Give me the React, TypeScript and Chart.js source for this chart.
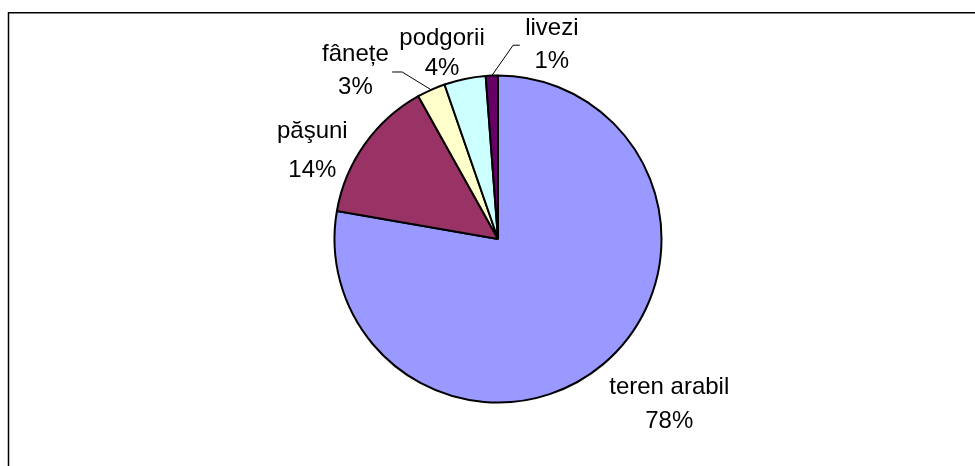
import React, { useEffect, useRef } from "react";
import { Chart, registerables } from "chart.js";

Chart.register(...registerables);

const categories = ["teren arabil", "păşuni", "fânețe", "podgorii", "livezi"];
const values = [77.7, 14.15, 2.8, 4.1, 1.2];
const colors = ["#9999FF", "#993366", "#FFFFCC", "#CCFFFF", "#660066"];

// label layout: offsets from each slice's outer mid-point (dx = text centre, dy1/dy2 = baselines)
const labelOffsets = [
  { dx: 66, dy1: 30.3, dy2: 64.3 },
  { dx: -52.3, dy1: -6.4, dy2: 33 },
  { dx: -75.7, dy1: -28.8, dy2: 4.5 },
  { dx: -22.8, dy1: -34.4, dy2: -3.7 },
  { dx: 60, dy1: -40.4, dy2: -7.4 },
];
// leader lines: [elbow, end] offsets from slice outer mid-point
const leaders: Record<number, number[][]> = {
  2: [[-29, -17.8], [-39, -17.8]],
  4: [[21.3, -30.4], [28, -30.4]],
};

const labelPlugin = {
  id: "pieLabels",
  beforeDraw(chart: any) {
    const ctx = chart.ctx;
    ctx.save();
    ctx.fillStyle = "#ffffff";
    ctx.fillRect(0, 0, chart.width, chart.height);
    ctx.strokeStyle = "#000";
    ctx.lineWidth = 1.5;
    ctx.beginPath();
    ctx.moveTo(8.5, chart.height);
    ctx.lineTo(8.5, 12.8);
    ctx.lineTo(chart.width, 12.8);
    ctx.stroke();
    ctx.restore();
  },
  afterDatasetsDraw(chart: any) {
    const ctx = chart.ctx;
    const meta = chart.getDatasetMeta(0);
    const data = chart.data.datasets[0].data as number[];
    const total = data.reduce((a, b) => a + b, 0);
    ctx.save();
    ctx.font = '24px "Liberation Sans", Arial, sans-serif';
    ctx.fillStyle = "#000";
    ctx.textAlign = "center";
    ctx.textBaseline = "alphabetic";
    meta.data.forEach((arc: any, i: number) => {
      const p = arc.getProps(["x", "y", "startAngle", "endAngle", "outerRadius"], true);
      const mid = (p.startAngle + p.endAngle) / 2;
      const ex = p.x + Math.cos(mid) * p.outerRadius;
      const ey = p.y + Math.sin(mid) * p.outerRadius;
      const off = labelOffsets[i];
      const pct = Math.round((data[i] / total) * 100) + "%";
      ctx.fillText(String(chart.data.labels[i]), ex + off.dx, ey + off.dy1);
      ctx.fillText(pct, ex + off.dx, ey + off.dy2);
      const l = leaders[i];
      if (l) {
        ctx.strokeStyle = "#000";
        ctx.lineWidth = 1;
        ctx.beginPath();
        ctx.moveTo(ex, ey);
        ctx.lineTo(ex + l[0][0], ey + l[0][1]);
        ctx.lineTo(ex + l[1][0], ey + l[1][1]);
        ctx.stroke();
      }
    });
    ctx.restore();
  },
};

export default function App() {
  const ref = useRef<HTMLCanvasElement>(null);
  useEffect(() => {
    if (!ref.current) return;
    const chart = new Chart(ref.current, {
      type: "pie",
      data: {
        labels: categories,
        datasets: [
          {
            data: values,
            backgroundColor: colors,
            borderColor: "#000",
            borderWidth: 2,
          },
        ],
      },
      options: {
        responsive: false,
        animation: false,
        radius: 163.5,
        layout: { padding: { left: 21, right: 0, top: 12, bottom: 0 } },
        plugins: {
          legend: { display: false },
          tooltip: { enabled: false },
        },
      } as any,
      plugins: [labelPlugin],
    });
    return () => chart.destroy();
  }, []);
  return (
    <div style={{ position: "fixed", left: 0, top: 0, width: 975, height: 466, background: "#fff" }}>
      <canvas ref={ref} width={975} height={466} style={{ width: 975, height: 466 }} />
    </div>
  );
}
